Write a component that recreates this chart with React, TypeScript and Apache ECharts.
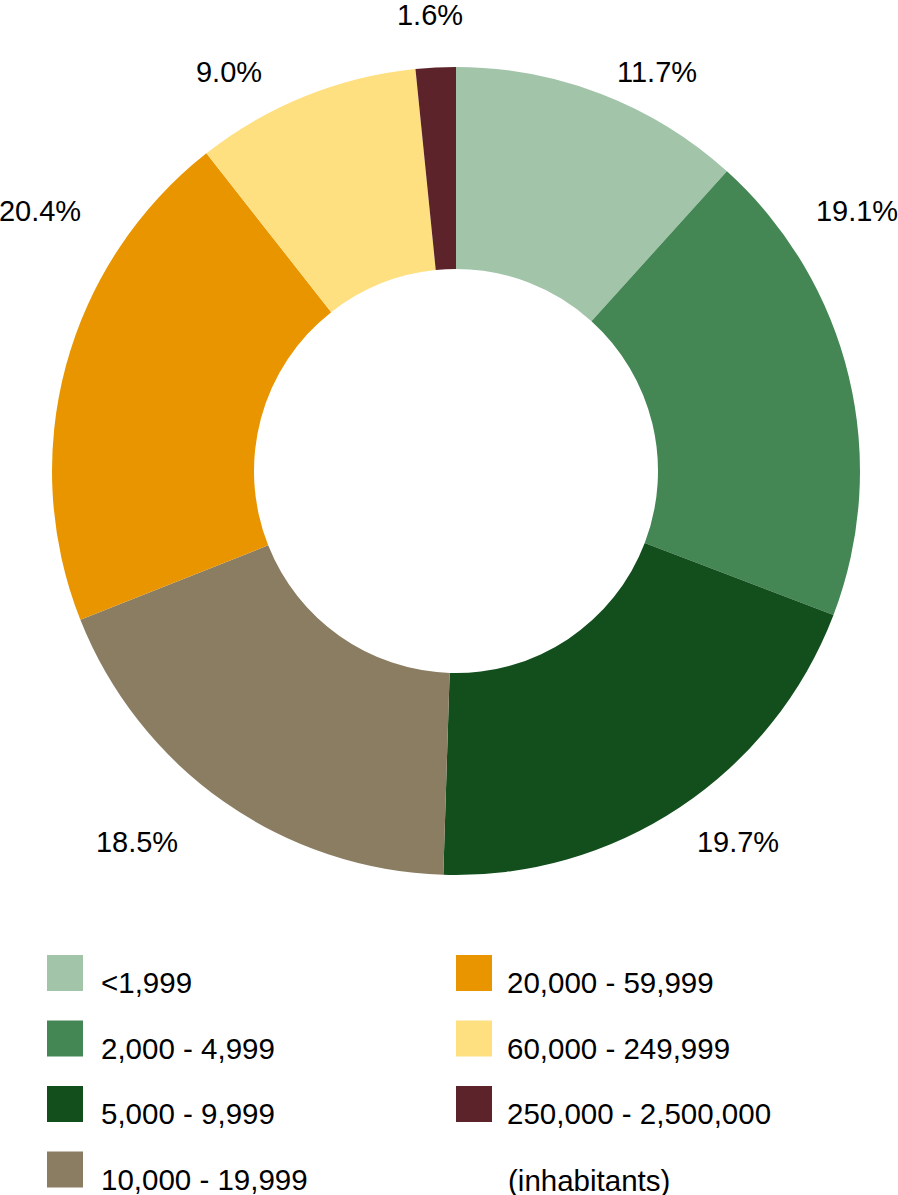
import React, { useEffect, useRef } from "react";
import * as echarts from "echarts";

const categories = [
  "<1,999",
  "2,000 - 4,999",
  "5,000 - 9,999",
  "10,000 - 19,999",
  "20,000 - 59,999",
  "60,000 - 249,999",
  "250,000 - 2,500,000",
];
const shares = [11.7, 19.1, 19.7, 18.5, 20.4, 9.0, 1.6];
const colors = ["#a2c4a9", "#448755", "#124f1d", "#8a7d62", "#e99500", "#fee081", "#5c242a"];
const unitNote = "(inhabitants)";

// label placement (centers) — layout only
const labelCenters = [
  [657, 72],
  [857, 211],
  [738, 842],
  [137, 842],
  [40, 211],
  [229, 72],
  [430, 15],
];

const FONT = "'Liberation Sans', Arial, sans-serif";
const LEGEND_FS = 29.5;

export default function App() {
  const ref = useRef<HTMLDivElement>(null);
  useEffect(() => {
    if (!ref.current) return;
    const chart = echarts.init(ref.current, undefined, { renderer: "svg" });
    const legendCommon = {
      orient: "vertical",
      icon: "rect",
      itemWidth: 36,
      itemHeight: 36,
      itemGap: 16.5,
      padding: 0,
      height: 300,
      selectedMode: false,
      top: 948.5,
      formatter: (name: string) => `{t|${name}}`,
    };
    const rich = (padLeft: number) => ({
      t: {
        fontFamily: FONT,
        fontSize: LEGEND_FS,
        color: "#000",
        lineHeight: 28,
        padding: [19, 0, 0, padLeft],
      },
    });
    chart.setOption({
      animation: false,
      backgroundColor: "#ffffff",
      legend: [
        {
          ...legendCommon,
          left: 47,
          data: categories.slice(0, 4),
          textStyle: { fontFamily: FONT, fontSize: LEGEND_FS, color: "#000", rich: rich(13) },
        },
        {
          ...legendCommon,
          left: 456,
          data: categories.slice(4),
          textStyle: { fontFamily: FONT, fontSize: LEGEND_FS, color: "#000", rich: rich(10) },
        },
      ],
      graphic: [
        {
          type: "text",
          left: 508,
          top: 1165,
          style: { text: unitNote, font: `${LEGEND_FS}px ${FONT}`, fill: "#000" },
        },
      ],
      series: [
        {
          type: "pie",
          center: [456, 471],
          radius: [202, 404],
          startAngle: 90,
          clockwise: true,
          avoidLabelOverlap: false,
          silent: true,
          data: categories.map((c, i) => ({ name: c, value: shares[i], itemStyle: { color: colors[i] } })),
          label: {
            show: true,
            position: "outside",
            fontFamily: FONT,
            fontSize: 29,
            color: "#000",
            formatter: (p: any) => `${Number(p.value).toFixed(1)}%`,
          },
          labelLine: { show: false },
          labelLayout: (params: any) => {
            const p = labelCenters[params.dataIndex];
            return { x: p[0], y: p[1], align: "center", verticalAlign: "middle" };
          },
        },
      ],
    });
    return () => chart.dispose();
  }, []);
  return <div ref={ref} style={{ position: "absolute", left: 0, top: 0, width: 898, height: 1195 }} />;
}
